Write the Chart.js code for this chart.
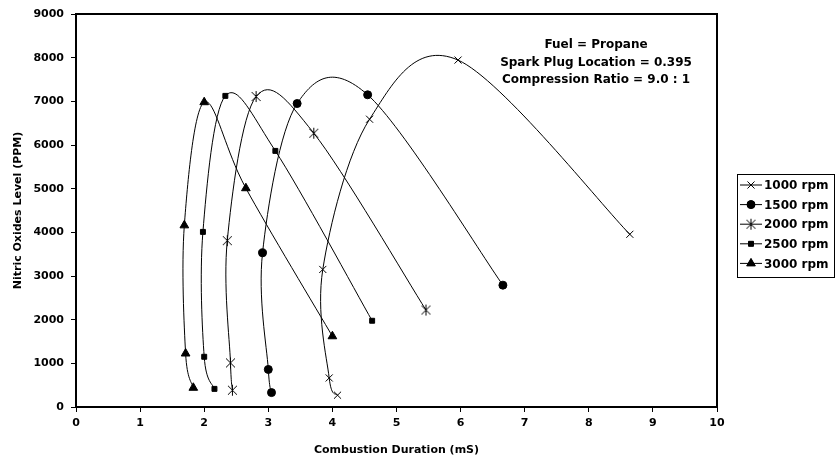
<!DOCTYPE html>
<html>
<head>
<meta charset="utf-8">
<script src="https://cdn.jsdelivr.net/npm/chart.js@4/dist/chart.umd.min.js"></script>
<style>
  html, body { margin: 0; padding: 0; background: #fff; }
  #wrap { width: 836px; height: 461px; position: relative; }
</style>
</head>
<body>
<div id="wrap"><canvas id="chart"></canvas></div>
<script>
// values: combustion duration (mS) and NOx (PPM), in curve order
const seriesNames = ["1000 rpm", "1500 rpm", "2000 rpm", "2500 rpm", "3000 rpm"]

const dur1000 = [4.08, 3.95, 3.85, 4.58, 5.96, 8.64]
const nox1000 = [270, 665, 3150, 6590, 7945, 3955]

const dur1500 = [3.05, 3.00, 2.91, 3.45, 4.55, 6.66]
const nox1500 = [330, 860, 3530, 6950, 7150, 2790]

const dur2000 = [2.44, 2.41, 2.36, 2.81, 3.71, 5.46]
const nox2000 = [385, 1010, 3810, 7110, 6270, 2220]

const dur2500 = [2.16, 2.00, 1.98, 2.33, 3.11, 4.62]
const nox2500 = [415, 1150, 4010, 7125, 5865, 1975]

const dur3000 = [1.83, 1.71, 1.69, 2.00, 2.65, 4.00]
const nox3000 = [440, 1225, 4160, 6980, 5010, 1620]

const xTicks = [0, 1, 2, 3, 4, 5, 6, 7, 8, 9, 10]
const yTicks = [0, 1000, 2000, 3000, 4000, 5000, 6000, 7000, 8000, 9000]

const noteLines = ["Fuel = Propane", "Spark Plug Location = 0.395", "Compression Ratio = 9.0 : 1"]

const FONT = "'DejaVu Sans', Verdana, sans-serif"

// asterisk marker (x with a vertical bar) like the original
function asterisk() {
  const c = document.createElement("canvas")
  c.width = 13; c.height = 13
  const g = c.getContext("2d")
  g.strokeStyle = "#000"; g.lineWidth = 1
  g.beginPath()
  g.moveTo(2, 2); g.lineTo(11, 11)
  g.moveTo(11, 2); g.lineTo(2, 11)
  g.moveTo(6.5, 1); g.lineTo(6.5, 12)
  g.stroke()
  return c
}
const starMark = asterisk()

const markers = [
  { style: "crossRot", radius: 5 },
  { style: "circle", radius: 4 },
  { style: starMark, radius: 6 },
  { style: "rect", radius: 3.5 },
  { style: "triangle", radius: 5 }
]

const toPoints = (xs, ys) => xs.map((x, i) => ({ x: x, y: ys[i] }))
const allData = [
  toPoints(dur1000, nox1000),
  toPoints(dur1500, nox1500),
  toPoints(dur2000, nox2000),
  toPoints(dur2500, nox2500),
  toPoints(dur3000, nox3000)
]

const datasets = allData.map((pts, i) => ({
  label: seriesNames[i],
  data: pts,
  showLine: true,
  tension: 0.4,
  borderColor: "#000",
  borderWidth: 1,
  backgroundColor: "#000",
  pointStyle: markers[i].style,
  pointRadius: markers[i].radius,
  pointBorderColor: "#000",
  pointBackgroundColor: "#000",
  pointBorderWidth: 1
}))

// spreadsheet-style smoothing: uniform catmull-rom (tangent / 6) on the scaled points
const smoothLines = {
  id: "smoothLines",
  beforeDatasetDraw(chart, args) {
    const line = args.meta.dataset
    if (!line) return
    line.updateControlPoints(chart.chartArea, "x")
    const pts = args.meta.data
    pts.forEach((p, i) => {
      const prev = pts[Math.max(i - 1, 0)]
      const next = pts[Math.min(i + 1, pts.length - 1)]
      const dx = (next.x - prev.x) / 6
      const dy = (next.y - prev.y) / 6
      p.cp1x = p.x - dx; p.cp1y = p.y - dy
      p.cp2x = p.x + dx; p.cp2y = p.y + dy
    })
    line._path = undefined
  }
}

// frame, note text and the boxed legend on the right
const extras = {
  id: "extras",
  afterDraw(chart) {
    const ctx = chart.ctx
    const a = chart.chartArea
    ctx.save()
    ctx.strokeStyle = "#000"
    ctx.lineWidth = 2
    ctx.strokeRect(a.left, a.top, a.right - a.left, a.bottom - a.top)

    ctx.fillStyle = "#000"
    ctx.font = "bold 12px " + FONT
    ctx.textAlign = "center"
    ctx.textBaseline = "middle"
    noteLines.forEach((t, i) => ctx.fillText(t, 596, 45 + i * 17.5))

    // legend
    ctx.lineWidth = 1
    ctx.strokeRect(737.5, 174.5, 97, 103)
    ctx.textAlign = "left"
    seriesNames.forEach((name, i) => {
      const y = 185 + i * 19.6
      ctx.beginPath()
      ctx.moveTo(740, y); ctx.lineTo(762, y)
      ctx.stroke()
      Chart.helpers.drawPoint(ctx, {
        pointStyle: markers[i].style,
        radius: markers[i].radius,
        borderWidth: 1,
        rotation: 0
      }, 751, y)
      ctx.fillStyle = "#000"
      ctx.fill()
      ctx.fillText(name, 764, y + 1)
    })
    ctx.restore()
  }
}

new Chart(document.getElementById("chart"), {
  type: "scatter",
  data: { datasets },
  plugins: [smoothLines, extras],
  options: {
    responsive: true,
    maintainAspectRatio: false,
    animation: false,
    layout: { padding: { top: 14, right: 119, left: 0, bottom: 0 } },
    plugins: {
      legend: { display: false },
      tooltip: { enabled: false }
    },
    scales: {
      x: {
        type: "linear",
        min: 0,
        max: 10,
        afterBuildTicks: s => { s.ticks = xTicks.map(v => ({ value: v })) },
        afterFit: s => { s.height = 54 },
        grid: { drawOnChartArea: false, tickLength: 5, color: "#000" },
        border: { color: "#000", width: 2 },
        ticks: { color: "#000", padding: 5, font: { family: FONT, size: 11, weight: "bold" } },
        title: {
          display: true,
          text: "Combustion Duration (mS)",
          color: "#000",
          padding: { top: 7 },
          font: { family: FONT, size: 11, weight: "bold" }
        }
      },
      y: {
        type: "linear",
        min: 0,
        max: 9000,
        afterBuildTicks: s => { s.ticks = yTicks.map(v => ({ value: v })) },
        afterFit: s => { s.width = 76 },
        grid: { drawOnChartArea: false, tickLength: 5, color: "#000" },
        border: { color: "#000", width: 2 },
        ticks: {
          color: "#000",
          padding: 7,
          callback: v => String(v),
          font: { family: FONT, size: 11, weight: "bold" }
        },
        title: {
          display: true,
          text: "Nitric Oxides Level (PPM)",
          color: "#000",
          padding: { top: 12, bottom: 0 },
          font: { family: FONT, size: 11, weight: "bold" }
        }
      }
    }
  }
})
</script>
</body>
</html>
